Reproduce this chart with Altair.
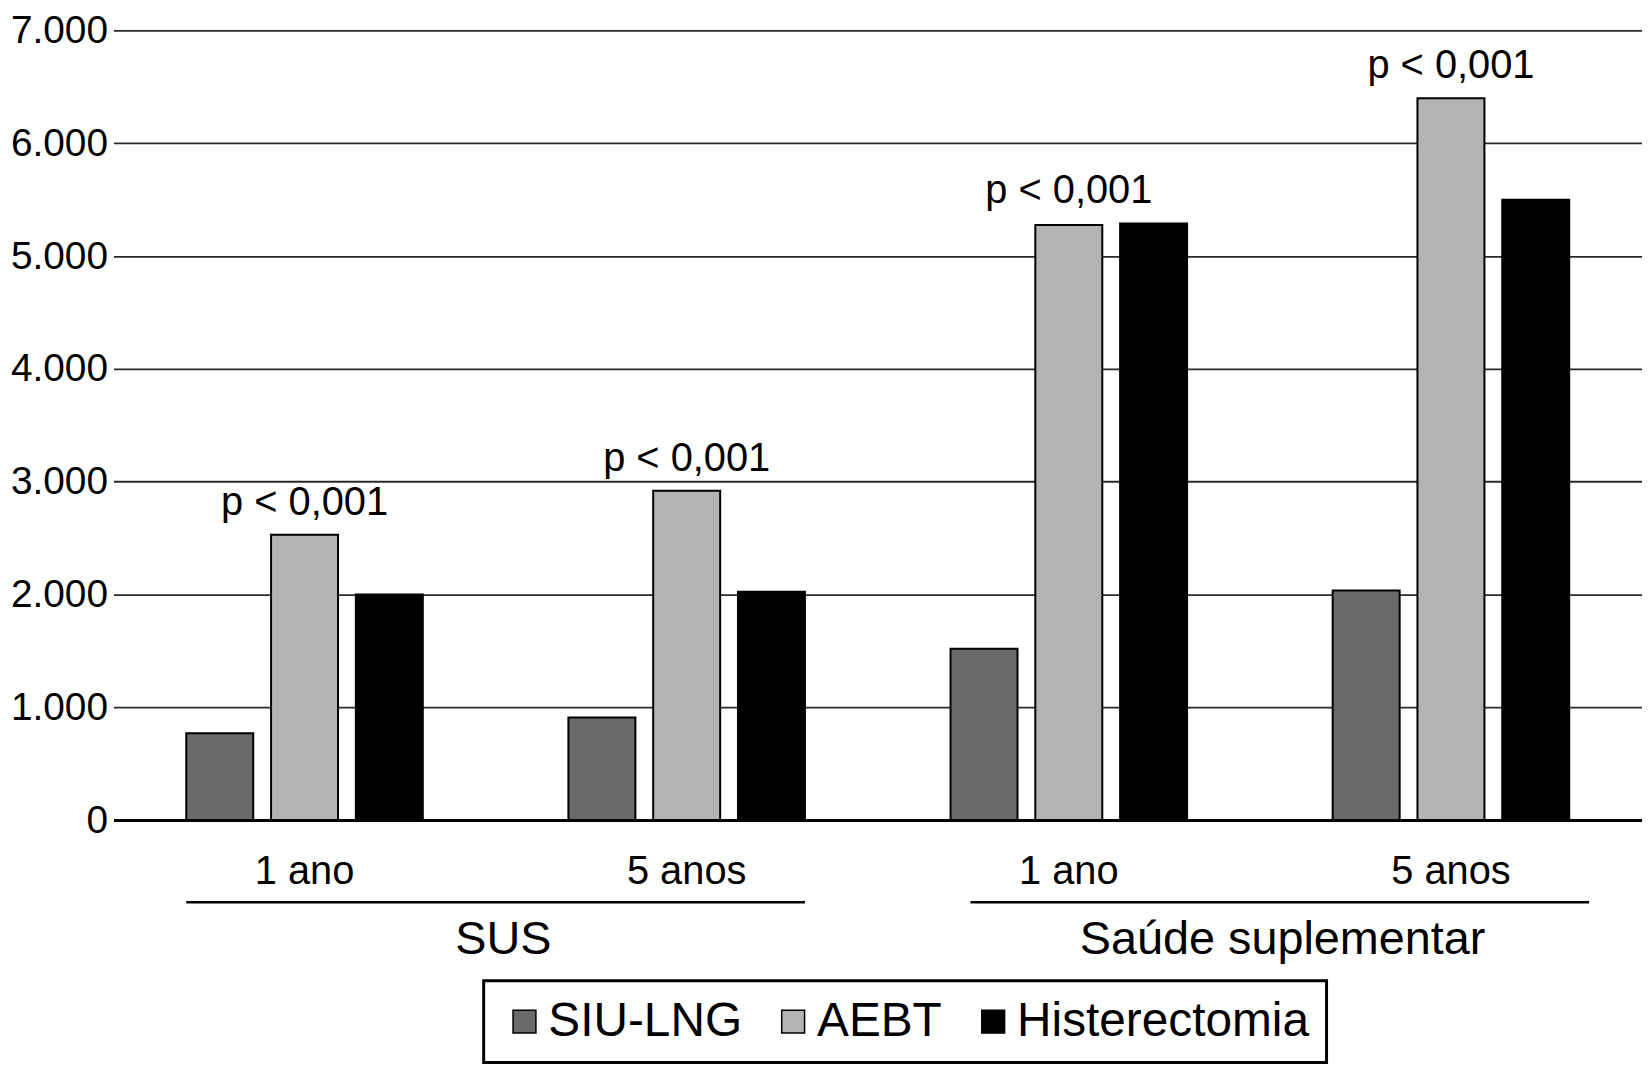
import altair as alt
import pandas as pd

FONT = "Liberation Sans, Arial, Helvetica, sans-serif"

# ---- data ----
systems = ["SUS", "SUS", "Saúde suplementar", "Saúde suplementar"]
periods = ["1 ano", "5 anos", "1 ano", "5 anos"]
treatments = ["SIU-LNG", "AEBT", "Histerectomia"]
siu_lng = [770, 910, 1520, 2035]
aebt = [2530, 2920, 5275, 6400]
histerectomia = [2000, 2025, 5290, 5500]
p_values = ["p < 0,001", "p < 0,001", "p < 0,001", "p < 0,001"]
y_ticks = [0, 1000, 2000, 3000, 4000, 5000, 6000, 7000]
colors = ["#6a6a6a", "#b3b3b3", "#000000"]

keys = [f"{s}|{p}" for s, p in zip(systems, periods)]

rows = []
for i, k in enumerate(keys):
    for t, vals in zip(treatments, [siu_lng, aebt, histerectomia]):
        rows.append({"key": k, "treatment": t, "value": vals[i]})
bars_df = pd.DataFrame(rows)

p_df = pd.DataFrame({
    "key": keys,
    "label": p_values,
    "top": [max(a, h) for a, h in zip(aebt, histerectomia)],
})

sys_names = ["SUS", "Saúde suplementar"]
groups_df = pd.DataFrame({
    "system": sys_names,
    "start": [keys[0], keys[2]],
    "end": [keys[1], keys[3]],
})

W = 1536
H = 793.5

xscale = alt.Scale(domain=keys, paddingInner=0.381, paddingOuter=0.1905)
yscale = alt.Scale(domain=[0, 7000], nice=False, zero=True)

x_axis = alt.Axis(labelExpr="split(datum.label, '|')[1]", labelAngle=0,
                  labelFontSize=40, labelFont=FONT, labelColor="black",
                  labelPadding=32, ticks=False, domainColor="black",
                  domainWidth=3, grid=False, labelLimit=0, title=None)
y_axis = alt.Axis(values=y_ticks,
                  labelExpr="replace(format(datum.value, ','), ',', '.')",
                  labelFontSize=39, labelFont=FONT, labelColor="black",
                  labelPadding=6, ticks=False, domain=False, grid=True,
                  gridColor="#2a2a2a", gridWidth=1.8, title=None, labelLimit=0)

bars = alt.Chart(bars_df).mark_bar(stroke="black", strokeWidth=2).encode(
    x=alt.X("key:N", sort=keys, scale=xscale, axis=x_axis, title=None),
    xOffset=alt.XOffset("treatment:N", sort=treatments,
                        scale=alt.Scale(domain=treatments, paddingInner=0.21, paddingOuter=0)),
    y=alt.Y("value:Q", scale=yscale, axis=y_axis, title=None),
    color=alt.Color("treatment:N", sort=treatments,
                    scale=alt.Scale(domain=treatments, range=colors),
                    legend=alt.Legend(orient="none", legendX=372, legendY=955,
                                      direction="horizontal", title=None,
                                      symbolType="square", symbolSize=529,
                                      symbolStrokeColor="black", symbolStrokeWidth=1.5,
                                      labelFontSize=48, labelFont=FONT, labelColor="black",
                                      labelOffset=0, columnPadding=27, padding=17,
                                      strokeColor="black", labelLimit=1000)),
)

ptext = alt.Chart(p_df).mark_text(
    fontSize=40, font=FONT, color="black", baseline="alphabetic", dy=-20
).encode(
    x=alt.X("key:N", sort=keys, scale=xscale, axis=x_axis, title=None),
    y=alt.Y("top:Q", scale=yscale, axis=y_axis, title=None),
    text="label:N",
)

underline_sus = alt.Chart(groups_df).transform_filter(
    alt.datum.system == sys_names[0]
).mark_rule(color="black", strokeWidth=2.5).encode(
    x=alt.X("start:N", sort=keys, scale=xscale, axis=x_axis, title=None, bandPosition=0),
    x2=alt.X2("end", bandPosition=1),
    y=alt.value(876),
)

underline_sau = alt.Chart(groups_df).transform_filter(
    alt.datum.system == sys_names[1]
).mark_rule(color="black", strokeWidth=2.5, xOffset=20, x2Offset=20).encode(
    x=alt.X("start:N", sort=keys, scale=xscale, axis=x_axis, title=None, bandPosition=0),
    x2=alt.X2("end", bandPosition=1),
    y=alt.value(876),
)

gtext_sus = alt.Chart(groups_df).transform_filter(
    alt.datum.system == sys_names[0]
).mark_text(
    fontSize=47, font=FONT, color="black", baseline="middle", align="center", dx=81
).encode(
    x=alt.X("start:N", sort=keys, scale=xscale, axis=x_axis, title=None, bandPosition=1),
    y=alt.value(914),
    text="system:N",
)

gtext_sau = alt.Chart(groups_df).transform_filter(
    alt.datum.system == sys_names[1]
).mark_text(
    fontSize=47, font=FONT, color="black", baseline="middle", align="center", dx=96
).encode(
    x=alt.X("start:N", sort=keys, scale=xscale, axis=x_axis, title=None, bandPosition=1),
    y=alt.value(914),
    text="system:N",
)

chart = alt.layer(bars, ptext, underline_sus, underline_sau, gtext_sus, gtext_sau).properties(
    width=W,
    height=H,
    autosize=alt.AutoSizeParams(type="none"),
    padding={"left": 106, "top": 20, "right": 0, "bottom": 244.5},
    background="white",
).configure_view(stroke=None).configure_legend(strokeWidth=3)

chart.save("out.html", embed_options={"renderer": "svg", "actions": False})
